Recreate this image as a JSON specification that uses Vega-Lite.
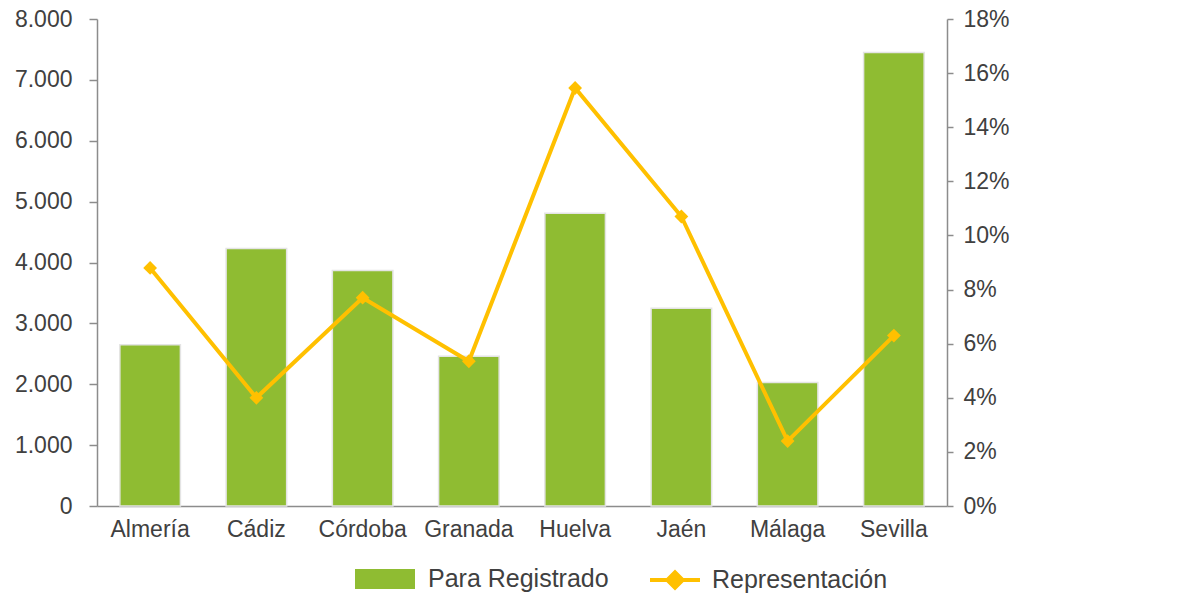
{
  "$schema": "https://vega.github.io/schema/vega-lite/v6.json",
  "width": 850,
  "height": 487,
  "padding": {"left": 14, "top": 8, "right": 5, "bottom": 5},
  "background": "white",
  "config": {
    "font": "Liberation Sans",
    "view": {"stroke": null},
    "axis": {"labelFont": "Liberation Sans", "labelFontSize": 23, "labelColor": "#404040", "domainColor": "#8c8c8c", "domainWidth": 1.5, "tickColor": "#8c8c8c", "tickWidth": 1.5, "grid": false, "title": null},
    "legend": {"labelFont": "Liberation Sans", "labelFontSize": 25, "labelColor": "#404040", "padding": 0, "title": null, "labelLimit": 400}
  },
  "data": {"values": [
    {"provincia": "Almería", "registrado": 2650, "representacion": 8.8},
    {"provincia": "Cádiz", "registrado": 4230, "representacion": 4.0},
    {"provincia": "Córdoba", "registrado": 3870, "representacion": 7.7},
    {"provincia": "Granada", "registrado": 2460, "representacion": 5.35},
    {"provincia": "Huelva", "registrado": 4810, "representacion": 15.45},
    {"provincia": "Jaén", "registrado": 3250, "representacion": 10.7},
    {"provincia": "Málaga", "registrado": 2030, "representacion": 2.4},
    {"provincia": "Sevilla", "registrado": 7450, "representacion": 6.3}
  ]},
  "encoding": {
    "x": {"field": "provincia", "type": "nominal", "sort": null,
      "scale": {"paddingInner": 0.43, "paddingOuter": 0.215},
      "axis": {"labelAngle": 0, "ticks": false, "labelPadding": 12}}
  },
  "layer": [
    {
      "mark": {"type": "bar", "stroke": "#e4e4e4", "strokeWidth": 1.5},
      "encoding": {
        "y": {"field": "registrado", "type": "quantitative",
          "scale": {"domain": [0, 8000], "nice": false},
          "axis": {"values": [0,1000,2000,3000,4000,5000,6000,7000,8000], "tickSize": 8, "labelPadding": 17,
            "labelExpr": "replace(format(datum.value, ',d'), ',', '.')"}},
        "fill": {"datum": "Para Registrado", "type": "nominal",
          "scale": {"domain": ["Para Registrado"], "range": ["#8FBC32"]},
          "legend": {"orient": "none", "legendX": 258, "legendY": 530,
            "symbolType": "M-1,-0.33L1,-0.33L1,0.33L-1,0.33Z", "symbolSize": 3600,
            "symbolStrokeWidth": 0, "labelOffset": 13}}
      }
    },
    {
      "encoding": {
        "y": {"field": "representacion", "type": "quantitative",
          "scale": {"domain": [0, 18], "nice": false},
          "axis": {"orient": "right", "values": [0,2,4,6,8,10,12,14,16,18], "tickSize": 6, "labelPadding": 10,
            "labelExpr": "datum.value + '%'"}}
      },
      "layer": [
        {
          "mark": {"type": "line", "strokeWidth": 4},
          "encoding": {
            "stroke": {"datum": "Representación", "type": "nominal",
              "scale": {"domain": ["Representación"], "range": ["#FFC000"]},
              "legend": {"orient": "none", "legendX": 553, "legendY": 536,
                "symbolType": "M-1,-0.08L1,-0.08L1,0.08L-1,0.08Z M0,-0.42L0.42,0L0,0.42L-0.42,0Z", "symbolSize": 2500,
                "symbolFillColor": "#FFC000", "symbolStrokeWidth": 0, "labelOffset": 12}}
          }
        },
        {
          "mark": {"type": "point", "shape": "diamond", "filled": true, "color": "#FFC000", "size": 190, "opacity": 1},
          "encoding": {}
        }
      ]
    }
  ],
  "resolve": {"scale": {"y": "independent"}}
}
